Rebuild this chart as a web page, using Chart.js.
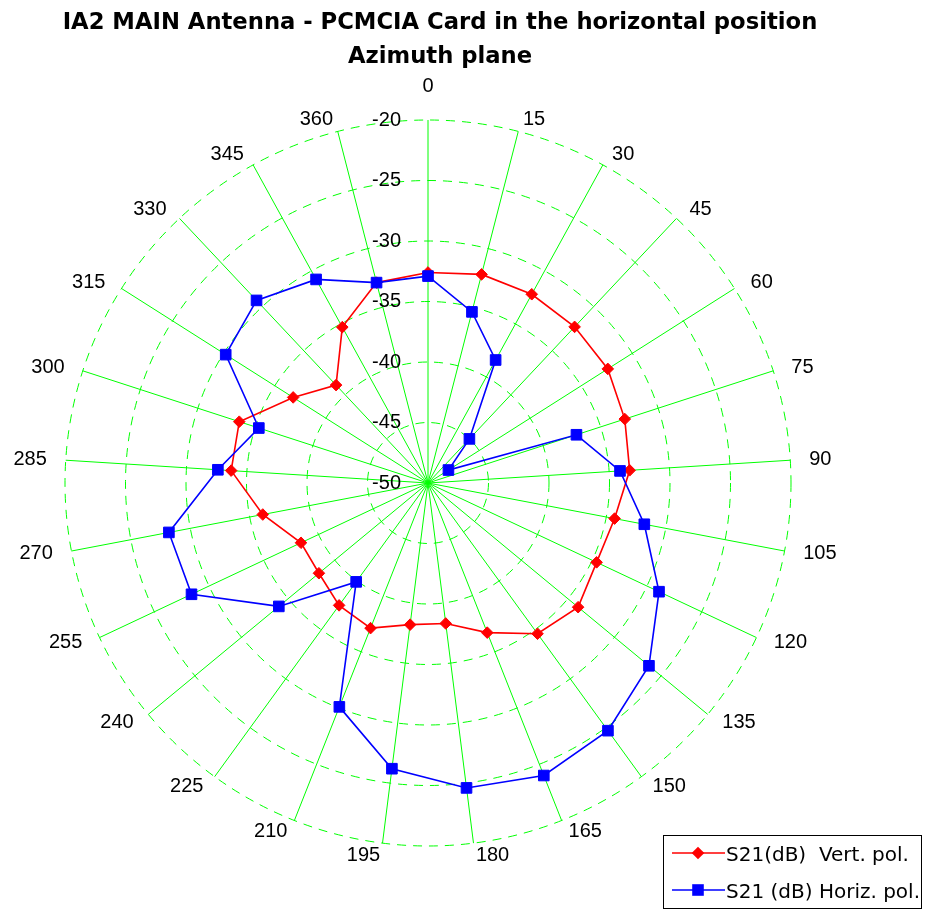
<!DOCTYPE html>
<html>
<head>
<meta charset="utf-8">
<title>IA2 MAIN Antenna - Azimuth plane</title>
<script src="https://cdn.jsdelivr.net/npm/chart.js@4.4.1/dist/chart.umd.min.js"></script>
<style>
  html, body { margin: 0; padding: 0; background: #fff; }
  canvas { display: block; }
</style>
</head>
<body>
<canvas id="polar" width="927" height="911"></canvas>
<script>
// 25 spokes: 0 and 360 each get their own spoke, like the original plot
const angleLabels = ['0', '15', '30', '45', '60', '75', '90', '105', '120', '135', '150', '165',
  '180', '195', '210', '225', '240', '255', '270', '285', '300', '315', '330', '345', '360'];
const dbTicks = [-50, -45, -40, -35, -30, -25, -20];

// S21 in dB, one value per spoke
const vertPol = [-32.6, -32.2, -32.2, -32.3, -32.4, -32.9, -33.3, -34.3, -34.6, -33.9, -34.6, -36.7,
  -38.3, -38.2, -37.1, -37.5, -38.3, -38.4, -36.1, -33.7, -33.6, -36.8, -38.9, -35.3, -32.9];
const horizPol = [-32.9, -35.4, -38.4, -45.0, -48.0, -37.1, -34.1, -31.8, -28.9, -26.3, -24.7, -24.0,
  -24.6, -26.2, -30.1, -39.9, -34.0, -28.4, -28.2, -32.6, -35.3, -30.2, -29.3, -30.8, -32.9];

const seriesNames = ['S21(dB)  Vert. pol.', 'S21 (dB) Horiz. pol.'];
const titleLines = ['IA2 MAIN Antenna - PCMCIA Card in the horizontal position', 'Azimuth plane'];

const GREEN = '#00ff00';
const numFont = '20px "Liberation Sans", Arial, sans-serif';

// title, spoke labels, dB labels and the boxed legend
const overlay = {
  id: 'overlay',
  afterDraw(chart) {
    const ctx = chart.ctx;
    const r = chart.scales.r;
    ctx.save();
    ctx.fillStyle = '#000';

    ctx.font = 'bold 22.7px "DejaVu Sans", sans-serif';
    ctx.textAlign = 'center';
    ctx.textBaseline = 'alphabetic';
    titleLines.forEach((t, k) => ctx.fillText(t, 440, 29 + k * 34));

    // spoke labels: anchored just outside the ring, left/right aligned by side
    ctx.font = numFont;
    ctx.textBaseline = 'middle';
    angleLabels.forEach((lab, i) => {
      const p = r.getPointPosition(i, r.drawingArea + 19);
      const deg = Math.round(p.angle * 180 / Math.PI + 90 + 360) % 360;
      const c = Math.cos(deg * Math.PI / 180);
      ctx.textAlign = (deg === 0 || deg === 180) ? 'center' : (deg < 180 ? 'left' : 'right');
      let dy = c > 0 ? 7 * c : -7 * Math.abs(c);
      if (deg === 0) dy = -14.5;
      ctx.fillText(lab, p.x, p.y + dy);
    });

    ctx.textAlign = 'right';
    dbTicks.forEach(v => {
      const p = r.getPointPosition(0, r.getDistanceFromCenterForValue(v));
      ctx.fillText(String(v), p.x - 27, p.y);
    });

    // legend box
    ctx.fillStyle = '#fff';
    ctx.fillRect(663, 835, 259, 74);
    ctx.strokeStyle = '#000';
    ctx.lineWidth = 1;
    ctx.strokeRect(663.5, 835.5, 258, 73);

    ctx.font = '20px "DejaVu Sans", sans-serif';
    ctx.textAlign = 'left';
    ctx.textBaseline = 'alphabetic';
    chart.data.datasets.forEach((ds, k) => {
      const y = 853 + k * 37;
      ctx.strokeStyle = ds.borderColor;
      ctx.lineWidth = ds.borderWidth;
      ctx.beginPath();
      ctx.moveTo(672, y);
      ctx.lineTo(725, y);
      ctx.stroke();
      ctx.fillStyle = ds.borderColor;
      ctx.beginPath();
      if (ds.pointStyle === 'rectRot') {
        ctx.moveTo(698, y - 6.3);
        ctx.lineTo(704.3, y);
        ctx.lineTo(698, y + 6.3);
        ctx.lineTo(691.7, y);
        ctx.closePath();
      } else {
        ctx.rect(692.2, y - 5.8, 11.6, 11.6);
      }
      ctx.fill();
      ctx.fillStyle = '#000';
      ctx.fillText(ds.label, 726, 861 + k * 37);
    });
    ctx.restore();
  }
};

new Chart(document.getElementById('polar'), {
  type: 'radar',
  data: {
    labels: angleLabels,
    datasets: [
      {
        label: seriesNames[0],
        data: vertPol,
        borderColor: '#ff0000',
        backgroundColor: '#ff0000',
        borderWidth: 1.6,
        fill: false,
        pointStyle: 'rectRot',
        pointRadius: 5.8,
        pointBorderWidth: 1,
        pointBackgroundColor: '#ff0000',
        pointBorderColor: '#ff0000',
        order: 1
      },
      {
        label: seriesNames[1],
        data: horizPol,
        borderColor: '#0000ff',
        backgroundColor: '#0000ff',
        borderWidth: 1.6,
        fill: false,
        pointStyle: 'rect',
        pointRadius: 7.5,
        pointBorderWidth: 1,
        pointBackgroundColor: '#0000ff',
        pointBorderColor: '#0000ff',
        order: 0
      }
    ]
  },
  options: {
    responsive: false,
    animation: false,
    layout: { padding: { left: 65, top: 120, right: 136, bottom: 65 } },
    elements: { line: { tension: 0 } },
    scales: {
      r: {
        min: dbTicks[0],
        max: dbTicks[dbTicks.length - 1],
        startAngle: 0,
        ticks: { stepSize: 5, display: false },
        grid: { circular: true, color: GREEN, lineWidth: 1, borderDash: [9, 7] },
        border: { dash: [9, 7] },
        angleLines: { color: GREEN, lineWidth: 1 },
        pointLabels: { display: false }
      }
    },
    plugins: {
      legend: { display: false },
      tooltip: { enabled: false }
    }
  },
  plugins: [overlay]
});
</script>
</body>
</html>
